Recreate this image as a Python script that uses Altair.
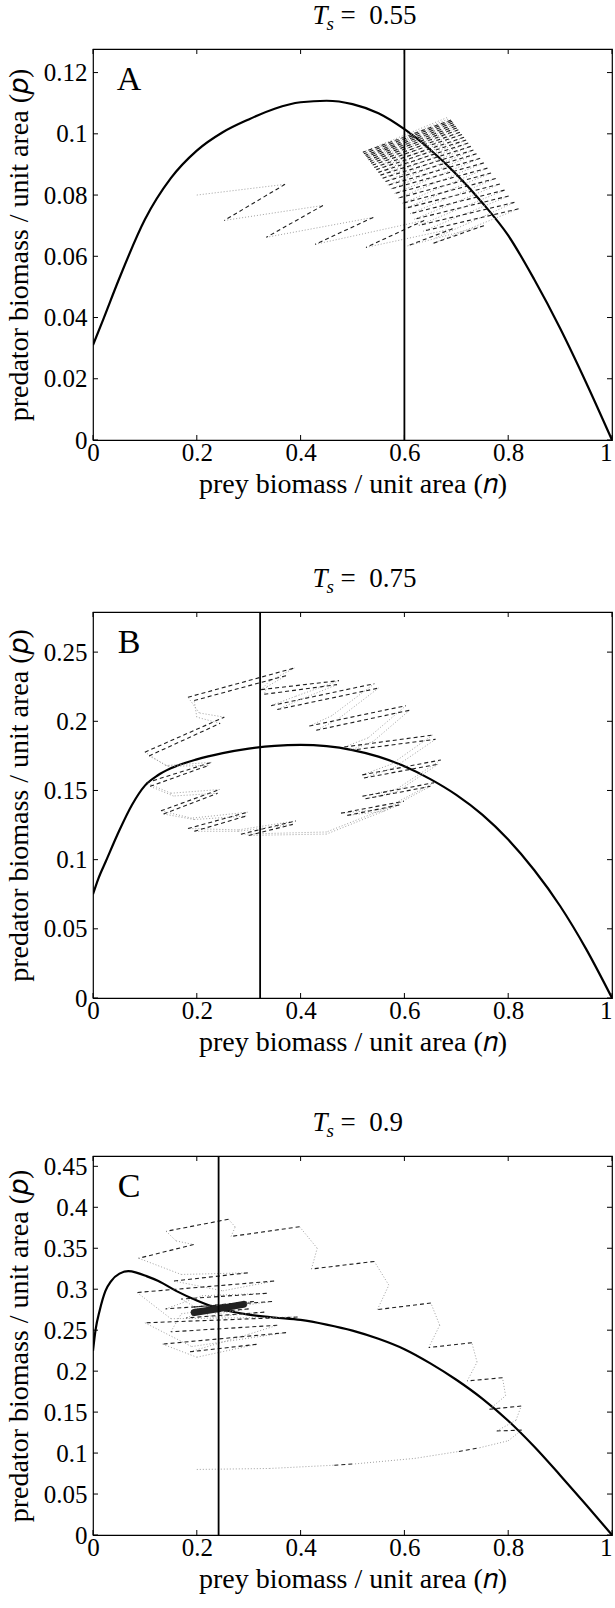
import altair as alt
import pandas as pd

FONT = "Liberation Serif"
W = 519

x_ticks = [0, 0.2, 0.4, 0.6, 0.8, 1]

# ---------------- Panel A (Ts = 0.55) ----------------
A_tval = "0.55"
A_letter = "A"
A_ymax = 0.1277
A_yticks = [0, 0.02, 0.04, 0.06, 0.08, 0.1, 0.12]
A_vline = 0.600
A_iso_n = [0, 0.02, 0.05, 0.1, 0.15, 0.2, 0.25, 0.3, 0.35, 0.4, 0.45, 0.5, 0.55, 0.6, 0.65, 0.7, 0.75, 0.8, 0.85, 0.9, 0.95, 1.0]
A_iso_p = [0.031, 0.0395, 0.0525, 0.0720, 0.0855, 0.0945, 0.1005, 0.1047, 0.1082, 0.1103, 0.1108, 0.1097, 0.1067, 0.1015, 0.0948, 0.0868, 0.0775, 0.0668, 0.0525, 0.0365, 0.0188, 0.0]
A_traj_n = [0.200, 0.370, 0.253, 0.443, 0.334, 0.540, 0.428, 0.638, 0.526, 0.693, 0.606, 0.753, 0.655,
            0.820, 0.636, 0.801, 0.619, 0.784, 0.602, 0.767, 0.588, 0.753, 0.574, 0.739, 0.563, 0.728,
            0.554, 0.719, 0.546, 0.711, 0.539, 0.704, 0.534, 0.699, 0.529, 0.694, 0.525, 0.690, 0.520, 0.685]
A_traj_p = [0.0800, 0.0835, 0.0717, 0.0766, 0.0662, 0.0727, 0.0639, 0.0717, 0.0629, 0.0690, 0.0634, 0.0700, 0.0642,
            0.0755, 0.0682, 0.0797, 0.0721, 0.0836, 0.0757, 0.0872, 0.0790, 0.0905, 0.0820, 0.0935, 0.0844, 0.0959,
            0.0865, 0.0980, 0.0883, 0.0998, 0.0898, 0.1013, 0.0910, 0.1025, 0.0921, 0.1036, 0.0930, 0.1045, 0.0940, 0.1055]
A_traj_k = ["s", "o", "d", "o", "d", "o", "d", "o", "d", "o", "d", "o", "d",
            "o", "d", "o", "d", "o", "d", "o", "d", "o", "d", "o", "d", "o",
            "d", "o", "d", "o", "d", "o", "d", "o", "d", "o", "d", "o", "d", "o"]
A_traj2_n = [0.660, 0.812, 0.628, 0.793, 0.611, 0.776, 0.596, 0.760, 0.581, 0.746, 0.568, 0.733, 0.558, 0.723,
             0.550, 0.715, 0.542, 0.707, 0.536, 0.701, 0.531, 0.696, 0.527, 0.692, 0.522, 0.687]
A_traj2_p = [0.0660, 0.0776, 0.0701, 0.0816, 0.0739, 0.0854, 0.0773, 0.0888, 0.0805, 0.0920, 0.0832, 0.0947, 0.0855, 0.0970,
             0.0874, 0.0989, 0.0890, 0.1005, 0.0904, 0.1019, 0.0915, 0.1030, 0.0926, 0.1041, 0.0935, 0.1050]
A_traj2_k = ["s", "o", "d", "o", "d", "o", "d", "o", "d", "o", "d", "o", "d", "o",
             "d", "o", "d", "o", "d", "o", "d", "o", "d", "o", "d", "o"]

# ---------------- Panel B (Ts = 0.75) ----------------
B_tval = "0.75"
B_letter = "B"
B_ymax = 0.279
B_yticks = [0, 0.05, 0.1, 0.15, 0.2, 0.25]
B_vline = 0.322
B_iso_n = [0, 0.01, 0.025, 0.05, 0.075, 0.1, 0.125, 0.15, 0.2, 0.25, 0.3, 0.35, 0.4, 0.45, 0.5, 0.55, 0.6, 0.65, 0.7, 0.75, 0.8, 0.85, 0.9, 0.95, 1.0]
B_iso_p = [0.075, 0.086, 0.099, 0.1205, 0.1395, 0.1535, 0.1610, 0.1660, 0.1725, 0.1770, 0.1803, 0.1823, 0.1829, 0.1820, 0.1792, 0.1745, 0.1675, 0.1582, 0.1468, 0.1325, 0.1145, 0.0925, 0.0665, 0.0355, 0.0]
B_traj_n = [0.100, 0.253, 0.205, 0.183, 0.388, 0.340, 0.324, 0.474, 0.390, 0.343, 0.542, 0.460, 0.417, 0.603,
            0.530, 0.484, 0.654, 0.575, 0.519, 0.670, 0.585, 0.519, 0.657, 0.560, 0.478, 0.599, 0.450, 0.285,
            0.391, 0.280, 0.183, 0.298, 0.190, 0.131, 0.244, 0.150, 0.103, 0.228, 0.140, 0.100]
B_traj_p = [0.1777, 0.2030, 0.2060, 0.2174, 0.2385, 0.2290, 0.2229, 0.2294, 0.2180, 0.2113, 0.2272, 0.2040, 0.1966, 0.2113,
            0.1880, 0.1814, 0.1900, 0.1690, 0.1613, 0.1720, 0.1510, 0.1458, 0.1556, 0.1365, 0.1336, 0.1422, 0.1200, 0.1184,
            0.1280, 0.1215, 0.1225, 0.1343, 0.1300, 0.1353, 0.1507, 0.1480, 0.1556, 0.1703, 0.1680, 0.1777]
B_traj_k = ["s", "d", "o", "o", "d", "o", "o", "d", "o", "o", "d", "o", "o", "d",
            "o", "o", "d", "o", "o", "d", "o", "o", "d", "o", "o", "d", "o", "o",
            "d", "o", "o", "d", "o", "o", "d", "o", "o", "d", "o", "o"]
B_traj2_n = [0.108, 0.245, 0.200, 0.195, 0.372, 0.335, 0.330, 0.470, 0.395, 0.355, 0.550, 0.470, 0.430, 0.610,
             0.540, 0.495, 0.660, 0.580, 0.522, 0.665, 0.585, 0.525, 0.650, 0.560, 0.490, 0.590, 0.450, 0.300,
             0.385, 0.280, 0.195, 0.295, 0.195, 0.136, 0.240, 0.155, 0.110, 0.222, 0.145, 0.108]
B_traj2_p = [0.1750, 0.1985, 0.2030, 0.2150, 0.2330, 0.2250, 0.2195, 0.2265, 0.2150, 0.2085, 0.2240, 0.2010, 0.1935, 0.2080,
             0.1855, 0.1790, 0.1870, 0.1665, 0.1590, 0.1690, 0.1490, 0.1440, 0.1530, 0.1350, 0.1320, 0.1395, 0.1185, 0.1175,
             0.1255, 0.1205, 0.1205, 0.1315, 0.1290, 0.1330, 0.1480, 0.1460, 0.1530, 0.1680, 0.1675, 0.1750]
B_traj2_k = B_traj_k

# ---------------- Panel C (Ts = 0.9) ----------------
C_tval = "0.9"
C_letter = "C"
C_ymax = 0.4626
C_yticks = [0, 0.05, 0.1, 0.15, 0.2, 0.25, 0.3, 0.35, 0.4, 0.45]
C_vline = 0.242
C_iso_n = [0, 0.005, 0.013, 0.024, 0.035, 0.051, 0.068, 0.085, 0.103, 0.126, 0.16, 0.2, 0.242, 0.3, 0.35, 0.4, 0.45, 0.5, 0.55, 0.6, 0.65, 0.7, 0.75, 0.8, 0.85, 0.9, 0.95, 1.0]
C_iso_p = [0.2248, 0.2506, 0.2744, 0.298, 0.310, 0.319, 0.322, 0.320, 0.316, 0.310, 0.298, 0.2863, 0.2764, 0.2690, 0.2655, 0.2625, 0.2568, 0.2495, 0.2395, 0.2268, 0.2095, 0.1895, 0.1665, 0.1395, 0.1080, 0.0730, 0.0370, 0.0]
C_traj_n = [0.200, 0.340, 0.465, 0.505, 0.620, 0.705, 0.745, 0.800, 0.826, 0.778, 0.815, 0.825, 0.764, 0.795,
            0.789, 0.721, 0.740, 0.730, 0.647, 0.668, 0.651, 0.548, 0.570, 0.542, 0.421, 0.432, 0.398, 0.266,
            0.274, 0.261, 0.141, 0.160, 0.194, 0.088, 0.170, 0.298, 0.156, 0.250, 0.349, 0.085, 0.150, 0.394,
            0.100, 0.190, 0.372, 0.134, 0.200, 0.315, 0.187, 0.300, 0.355, 0.150, 0.170, 0.345, 0.140, 0.210,
            0.335, 0.170, 0.230, 0.330, 0.180, 0.230, 0.310, 0.190, 0.240, 0.300, 0.200]
C_traj_p = [0.0800, 0.0812, 0.0852, 0.0868, 0.0935, 0.1020, 0.1065, 0.1150, 0.1280, 0.1270, 0.1400, 0.1574, 0.1535, 0.1700,
            0.1920, 0.1880, 0.2110, 0.2347, 0.2288, 0.2560, 0.2831, 0.2752, 0.3050, 0.3339, 0.3247, 0.3500, 0.3763, 0.3644,
            0.3760, 0.3854, 0.3707, 0.3590, 0.3545, 0.3378, 0.3180, 0.3200, 0.3100, 0.2980, 0.3100, 0.2960, 0.2640, 0.2660,
            0.2590, 0.2300, 0.2470, 0.2330, 0.2170, 0.2327, 0.2236, 0.2450, 0.2560, 0.2480, 0.2700, 0.2850, 0.2760, 0.2920,
            0.2950, 0.2880, 0.2660, 0.2720, 0.2650, 0.2780, 0.2850, 0.2780, 0.2700, 0.2760, 0.2700]
C_traj_k = ["s", "o", "o", "d", "o", "o", "d", "o", "o", "d", "o", "o", "d", "o",
            "o", "d", "o", "o", "d", "o", "o", "d", "o", "o", "d", "o", "o", "d",
            "o", "o", "d", "o", "o", "d", "o", "o", "d", "o", "o", "d", "o", "o",
            "d", "o", "o", "d", "o", "o", "d", "o", "o", "d", "o", "o", "d", "o",
            "o", "d", "o", "o", "d", "o", "o", "d", "o", "o", "d"]
C_blob_n = [0.195, 0.240, 0.290]
C_blob_p = [0.2715, 0.2760, 0.2815]


def segments(ns, ps, ks):
    rows = []
    for i in range(1, len(ns)):
        rows.append({"n": ns[i - 1], "p": ps[i - 1], "n2": ns[i], "p2": ps[i], "k": ks[i]})
    return pd.DataFrame(rows)


def panel(iso_n, iso_p, trajs, vline, ymax, yticks, letter, tval, H, blob=None):
    xs = alt.Scale(domain=[0, 1], nice=False, zero=False)
    ys = alt.Scale(domain=[0, ymax], nice=False, zero=False)
    xaxis = alt.Axis(values=x_ticks, format="~g", title="prey biomass / unit area (𝑛)",
                     labelPadding=0, titlePadding=5, grid=False, ticks=False, domain=False,
                     labelAlign={"condition": {"test": "datum.value == 1", "value": "right"}, "value": "center"})
    yaxis = alt.Axis(values=yticks, format="~g", title="predator biomass / unit area (𝑝)",
                     grid=False, ticks=False, domain=False,
                     labelPadding=6, titlePadding=8, minExtent=52, maxExtent=52)
    X = alt.X("n:Q", scale=xs, axis=xaxis)
    Y = alt.Y("p:Q", scale=ys, axis=yaxis)

    layers = []
    iso = pd.DataFrame({"n": iso_n, "p": iso_p})
    layers.append(alt.Chart(iso).mark_line(color="black", strokeWidth=2.2, interpolate="monotone", clip=True)
                  .encode(x=X, y=Y))
    for tn, tp, tk in trajs:
        seg = segments(tn, tp, tk)
        dots = seg[seg.k == "o"]
        dash = seg[seg.k == "d"]
        layers.append(alt.Chart(dots).mark_rule(color="#a0a0a0", strokeWidth=1, strokeDash=[1, 2])
                      .encode(x=X, y=Y, x2="n2:Q", y2="p2:Q"))
        layers.append(alt.Chart(dash).mark_rule(color="#1e1e1e", strokeWidth=1.1, strokeDash=[4, 3])
                      .encode(x=X, y=Y, x2="n2:Q", y2="p2:Q"))
    if blob is not None:
        bdf = pd.DataFrame({"n": blob[0], "p": blob[1]})
        layers.append(alt.Chart(bdf).mark_line(color="#222222", strokeWidth=7, strokeCap="round",
                                               interpolate="monotone").encode(x=X, y=Y))
    layers.append(alt.Chart(pd.DataFrame({"n": [vline]})).mark_rule(color="black", strokeWidth=1.8)
                  .encode(x=X))
    # inward tick marks
    yt = pd.DataFrame({"p": yticks})
    xt = pd.DataFrame({"n": x_ticks})
    layers.append(alt.Chart(yt).mark_rule(color="black", strokeWidth=1)
                  .encode(y=Y, x=alt.value(0), x2=alt.value(5)))
    layers.append(alt.Chart(yt).mark_rule(color="black", strokeWidth=1)
                  .encode(y=Y, x=alt.value(W - 5), x2=alt.value(W)))
    layers.append(alt.Chart(xt).mark_rule(color="black", strokeWidth=1)
                  .encode(x=X, y=alt.value(H), y2=alt.value(H - 5)))
    layers.append(alt.Chart(xt).mark_rule(color="black", strokeWidth=1)
                  .encode(x=X, y=alt.value(0), y2=alt.value(5)))
    # panel letter
    layers.append(alt.Chart(pd.DataFrame({"t": [letter]})).mark_text(
        font=FONT, fontSize=34, align="center", baseline="middle", color="black")
        .encode(text="t:N", x=alt.value(36), y=alt.value(31)))
    # title  T_s = value
    c = W / 2 + 6
    layers.append(alt.Chart(pd.DataFrame({"t": ["T"]})).mark_text(
        font=FONT, fontSize=27, fontStyle="italic", align="right", baseline="middle", color="black")
        .encode(text="t:N", x=alt.value(c - 31), y=alt.value(-33)))
    layers.append(alt.Chart(pd.DataFrame({"t": ["s"]})).mark_text(
        font=FONT, fontSize=19, fontStyle="italic", align="left", baseline="middle", color="black")
        .encode(text="t:N", x=alt.value(c - 32), y=alt.value(-25)))
    layers.append(alt.Chart(pd.DataFrame({"t": ["=\u2002" + tval]})).mark_text(
        font=FONT, fontSize=27, align="left", baseline="middle", color="black")
        .encode(text="t:N", x=alt.value(c - 18), y=alt.value(-33)))
    return alt.layer(*layers).properties(width=W, height=H)


pA = panel(A_iso_n, A_iso_p, [(A_traj_n, A_traj_p, A_traj_k), (A_traj2_n, A_traj2_p, A_traj2_k)],
           A_vline, A_ymax, A_yticks, A_letter, A_tval, 391)
pB = panel(B_iso_n, B_iso_p, [(B_traj_n, B_traj_p, B_traj_k), (B_traj2_n, B_traj2_p, B_traj2_k)],
           B_vline, B_ymax, B_yticks, B_letter, B_tval, 386)
pC = panel(C_iso_n, C_iso_p, [(C_traj_n, C_traj_p, C_traj_k)], C_vline, C_ymax, C_yticks, C_letter, C_tval, 379,
           blob=(C_blob_n, C_blob_p))

chart = alt.vconcat(alt.vconcat(pA, pB, spacing=65), pC, spacing=51).properties(
    padding={"left": 4, "right": 0, "top": 1, "bottom": 2},
    background="white"
).configure_view(stroke="black", strokeWidth=1.2).configure_axis(
    labelFont=FONT, labelFontSize=25, labelColor="black",
    titleFont=FONT, titleFontSize=28, titleFontWeight="normal", titleColor="black",
    grid=False, ticks=False, domain=False
)

chart.save("out.html", embed_options={"renderer": "svg", "actions": False})
